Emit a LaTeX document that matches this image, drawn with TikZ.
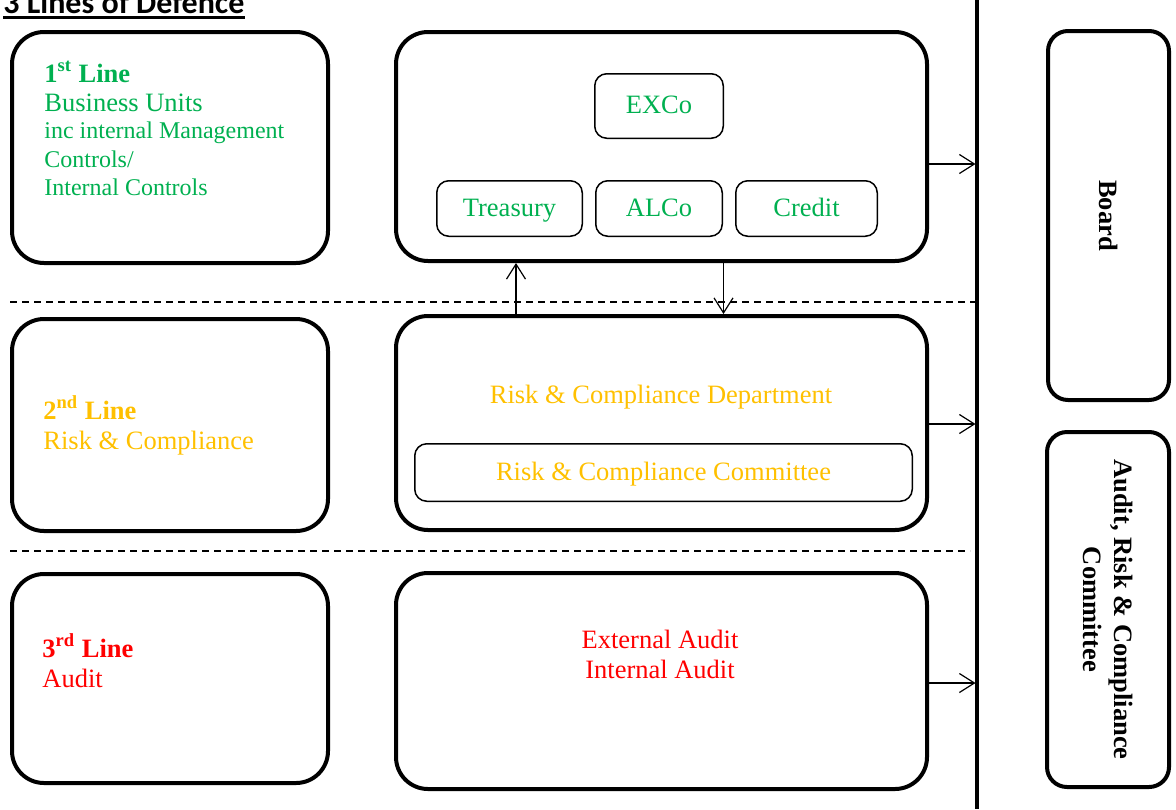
\documentclass[tikz,border=0pt]{standalone}
\usepackage{fontspec}
\setmainfont{Liberation Serif}
\newfontfamily\titlefont{Carlito}
\usetikzlibrary{arrows.meta}
\definecolor{cgreen}{HTML}{00B050}
\definecolor{camber}{HTML}{FFC000}
\definecolor{cred}{HTML}{FF0000}
\newcommand\mainsz{\fontsize{13.25pt}{15pt}\selectfont}
\newcommand\smallsz{\fontsize{12pt}{14pt}\selectfont}
\begin{document}
\begin{tikzpicture}[x=0.5pt,y=-0.5pt,
  bigbox/.style={draw, line width=2pt, rounded corners=16pt, inner sep=0pt},
  sidebox/.style={draw, line width=2pt, rounded corners=10pt, inner sep=0pt, font=\mainsz\bfseries, align=center, rotate=-90},
  smallbox/.style={draw, line width=0.75pt, rounded corners=6pt, inner sep=0pt, text height=0.78em, text depth=0pt, font=\mainsz},
  txt/.style={inner sep=0pt, font=\mainsz},
  stxt/.style={inner sep=0pt, font=\smallsz},
  conn/.style={line width=0.6pt, -{Straight Barb[length=7.5pt,width=9.5pt]}},
  sep/.style={line width=0.7pt, dash pattern=on 3.5pt off 2.5pt},
]
\useasboundingbox (0,0) rectangle (1176,809);

% title
\node[anchor=base west, inner sep=0pt, font=\titlefont\bfseries\fontsize{16pt}{18pt}\selectfont] (title) at (3,13) {3 Lines of Defence};
\draw[line width=1.2pt] ([yshift=-2.2pt]title.base west) -- ([yshift=-2.2pt]title.base east);

% left boxes
\node[bigbox, minimum width=158pt, minimum height=115.5pt] (L1) at (170,147.5) {};
\node[bigbox, minimum width=158pt, minimum height=106pt] (L2) at (170,425) {};
\node[bigbox, minimum width=158pt, minimum height=104.5pt] (L3) at (170,678.5) {};

% middle boxes
\node[bigbox, minimum width=265.5pt, minimum height=114.5pt] (M1) at (661.5,146.5) {};
\node[bigbox, minimum width=265.5pt, minimum height=107pt] (M2) at (661.5,423) {};
\node[bigbox, minimum width=265.5pt, minimum height=108pt] (M3) at (661.5,681) {};

% right boxes
\node[sidebox, minimum width=184.5pt, minimum height=60.5pt] (board) at (1108.5,215.5) {Board};
\node[sidebox, minimum width=177.5pt, minimum height=61pt, font=\fontsize{13.25pt}{15.5pt}\selectfont\bfseries] (arc) at (1108,609.5) {Audit, Risk \& Compliance\\Committee};

% 1st line text
\node[txt, anchor=base west, text=cgreen, font=\mainsz\bfseries] (l1a) at (44,82) {1\textsuperscript{st} Line};
\node[txt, anchor=base west, text=cgreen] (l1b) at (44,111) {Business Units};
\node[stxt, anchor=base west, text=cgreen] (l1c) at (44,138) {inc internal Management};
\node[stxt, anchor=base west, text=cgreen] (l1d) at (44,167) {Controls/};
\node[stxt, anchor=base west, text=cgreen] (l1e) at (44,195) {Internal Controls};

% 2nd line text
\node[txt, anchor=base west, text=camber, font=\mainsz\bfseries] (l2a) at (43,419) {2\textsuperscript{nd} Line};
\node[txt, anchor=base west, text=camber] (l2b) at (43,449) {Risk \& Compliance};

% 3rd line text
\node[txt, anchor=base west, text=cred, font=\mainsz\bfseries] (l3a) at (42,657) {3\textsuperscript{rd} Line};
\node[txt, anchor=base west, text=cred] (l3b) at (42,687) {Audit};

% inner boxes of M1
\node[smallbox, text=cgreen, minimum width=64.25pt, minimum height=32.25pt] (exco) at (659,106) {EXCo};
\node[smallbox, text=cgreen, minimum width=72.75pt, minimum height=27.75pt] (treas) at (509.5,208.5) {Treasury};
\node[smallbox, text=cgreen, minimum width=63.25pt, minimum height=27.75pt] (alco) at (659,208.5) {ALCo};
\node[smallbox, text=cgreen, minimum width=70.75pt, minimum height=27.75pt] (credit) at (806.5,208.5) {Credit};

% M2 contents
\node[txt, anchor=base, text=camber] (rcd) at (661,403) {Risk \& Compliance Department};
\node[smallbox, text=camber, minimum width=248.75pt, minimum height=28.75pt] (rcc) at (663.5,472.5) {Risk \& Compliance Committee};

% M3 contents
\node[txt, anchor=base, text=cred] (ext) at (660,648) {External Audit};
\node[txt, anchor=base, text=cred] (int) at (660,678) {Internal Audit};

% vertical line
\coordinate (vtop) at (977,0);
\coordinate (vbot) at (977,809);
\draw[line width=1.75pt] (vtop) -- (vbot);

% dashed separators
\coordinate (d1s) at (10,302);
\coordinate (d1e) at (975,302);
\coordinate (d2s) at (10,551);
\coordinate (d2e) at (970,551);
\draw[sep] (d1s) -- (d1e);
\draw[sep] (d2s) -- (d2e);

% arrows to the vertical line
\coordinate (a1) at (975.5,164);
\coordinate (a2) at (975.5,424);
\coordinate (a3) at (975.5,683);
\draw[conn] (M1.east |- a1) -- (a1);
\draw[conn] (M2.east |- a2) -- (a2);
\draw[conn] (M3.east |- a3) -- (a3);

% arrows between M1 and M2
\coordinate (ux) at (516,290);
\coordinate (dx) at (723.5,290);
\draw[conn] (ux |- M2.north) -- (ux |- M1.south);
\draw[conn] (dx |- M1.south) -- (dx |- M2.north);
\end{tikzpicture}
\end{document}
